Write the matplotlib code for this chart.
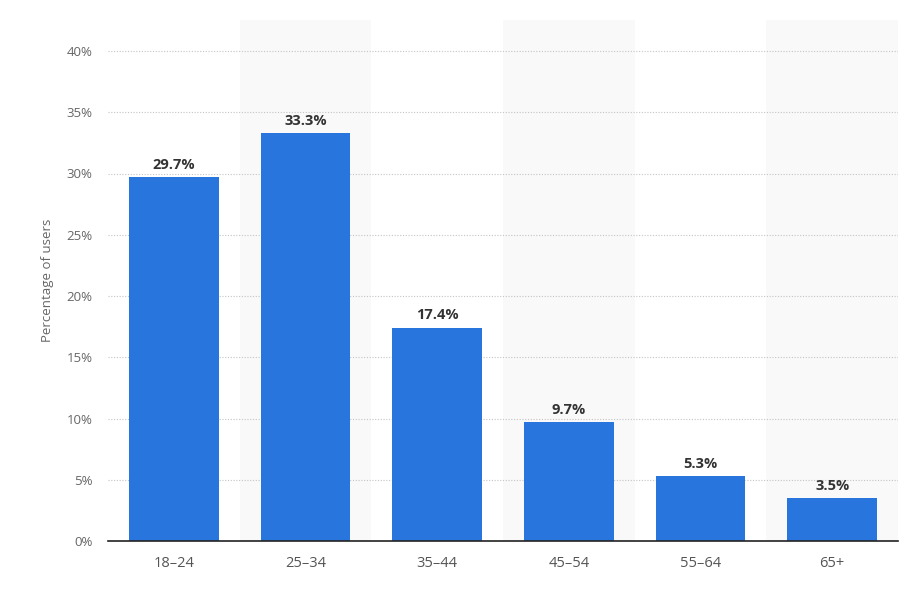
import matplotlib
matplotlib.use("Agg")
import matplotlib.pyplot as plt

categories = ["18-24", "25-34", "35-44", "45-54", "55-64", "65+"]
values = [29.7, 33.3, 17.4, 9.7, 5.3, 3.5]
yticks = [0, 5, 10, 15, 20, 25, 30, 35, 40]

plt.rcParams['font.family'] = ['Open Sans', 'DejaVu Sans']

W, H = 916, 593
fig = plt.figure(figsize=(W/100, H/100), dpi=100)
ax = fig.add_axes([108/W, (H-541)/H, (898-108)/W, (541-20)/H])

x = list(range(len(categories)))
for i in x:
    if i % 2 == 1:
        ax.axvspan(i-0.5, i+0.5, color='#f9f9f9', zorder=0, lw=0)

ax.bar(x, values, width=0.68, color='#2876dd', zorder=3)
for xi, v in zip(x, values):
    ax.annotate(f"{v}%", (xi, v), xytext=(0, 4), textcoords='offset points',
                ha='center', va='bottom', fontsize=10.5, fontweight='bold', color='#333333')

ax.set_xlim(-0.5, len(categories)-0.5)
ax.set_ylim(0, 40*(541-20)/(541-51))
ax.set_yticks(yticks)
ax.set_yticklabels([f"{t}%" for t in yticks])
ax.set_xticks(x)
ax.set_xticklabels([c.replace('-', '–') for c in categories])
ax.tick_params(axis='y', length=0, pad=11, labelsize=9.5, labelcolor='#666666')
ax.tick_params(axis='x', length=0, pad=11, labelsize=10.5, labelcolor='#555555')
ax.yaxis.grid(True, linestyle=(0, (1, 1.5)), color='#c4c4c4', lw=0.8, zorder=1)
ax.set_axisbelow(True)
for s in ['top', 'right', 'left']:
    ax.spines[s].set_visible(False)
ax.spines['bottom'].set_color('#222222')
ax.spines['bottom'].set_linewidth(1.2)
ax.spines['bottom'].set_zorder(4)
ax.set_ylabel("Percentage of users", fontsize=9.5, color='#666666', labelpad=9)

fig.savefig("out.png", dpi=100)
